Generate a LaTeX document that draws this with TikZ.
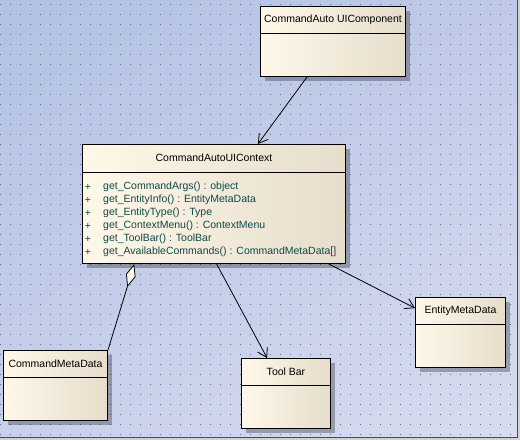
\documentclass[tikz,border=0pt]{standalone}
\usepackage{fontspec}
\setmainfont{Liberation Sans}
\usetikzlibrary{positioning,arrows.meta,calc,shadows,shadings}
\definecolor{bgtl}{HTML}{B2C2E3}
\definecolor{bgtr}{HTML}{C0CAE8}
\definecolor{bgbl}{HTML}{C8D0EA}
\definecolor{bgbr}{HTML}{D8DCEE}
\definecolor{griddot}{HTML}{5A6A9A}
\definecolor{cream}{HTML}{FFF8E9}
\definecolor{beige}{HTML}{E6DDCB}
\definecolor{opteal}{HTML}{0E4A4A}

\begin{document}
\begin{tikzpicture}[x=1pt,y=-1pt,
  classbox/.style={draw=black,line width=1pt,anchor=north west,inner sep=0pt,
    left color=cream,right color=beige,
    drop shadow={shadow xshift=4pt,shadow yshift=-4pt,fill=black,opacity=0.28}},
  ctitle/.style={font=\fontsize{10.5}{12}\selectfont,inner sep=0pt},
  meth/.style={font=\fontsize{10.5}{12}\selectfont,text=opteal,anchor=west,inner sep=0pt},
  dep/.style={line width=0.8pt,-{Straight Barb[length=9pt,width=11pt,line width=0.8pt]}}]
  \useasboundingbox (0,0) rectangle (520,440);
  % diagram canvas
  \fill[black!18] (0,0) rectangle (520,440);
  \shade[upper left=bgtl,upper right=bgtr,lower left=bgbl,lower right=bgbr] (0,0) rectangle (517,437);
  \foreach \i in {0,...,51}{\foreach \j in {0,...,43}{
     \fill[griddot] (10*\i+0.2,10*\j+3.6) rectangle ++(1.2,1.2);}}
  \draw[line width=1.5pt,black!70] (517.5,0)--(517.5,437.5)--(0,437.5);
  % classes
  \foreach \n/\x/\y/\w/\t in {comp/260/6/145/CommandAuto UIComponent,
      cmd/3/350/104/CommandMetaData,tool/241/358/89/Tool Bar,ent/415/297/90/EntityMetaData}{
    \node[classbox,minimum width=\w pt,minimum height=70pt] (\n) at (\x,\y) {};
    \draw[line width=0.8pt] ($(\n.north west)+(0,27.5)$)--($(\n.north east)+(0,27.5)$);
    \node[ctitle] (\n-title) at ($(\n.north)+(0,14)$) {\t};
  }
  \node[classbox,minimum width=263pt,minimum height=119pt] (ctx) at (82,144) {};
  \draw[line width=0.8pt] ($(ctx.north west)+(0,28)$)--($(ctx.north east)+(0,28)$);
  \node[ctitle] (ctx-title) at ($(ctx.north)+(0,14)$) {CommandAutoUIContext};
  \foreach \k/\m in {0/{get\_CommandArgs() : object},1/{get\_EntityInfo() : EntityMetaData},
      2/{get\_EntityType() : Type},3/{get\_ContextMenu() : ContextMenu},
      4/{get\_ToolBar() : ToolBar},5/{get\_AvailableCommands() : CommandMetaData[]}}{
    \node[meth,anchor=center] (ctx-vis\k) at ($(ctx.north west)+(6,43+13*\k)$) {+};
    \node[meth] (ctx-op\k) at ($(ctx.north west)+(21,43+13*\k)$) {\m};
  }
  % relations
  \draw[dep] (comp) -- (ctx);
  \draw[dep] ($(ctx.south west)!0.51!(ctx.south east)$) -- ($(tool.north west)!0.29!(tool.north east)$);
  \draw[dep] ($(ctx.south west)!0.935!(ctx.south east)$) -- ($(ent.north west)!0.157!(ent.south west)$);
  \draw[line width=0.8pt,{Diamond[length=24pt,width=10pt,fill=cream,line width=0.8pt]}-]
     ($(ctx.south west)!0.198!(ctx.south east)$) -- (cmd.north east);
\end{tikzpicture}
\end{document}
